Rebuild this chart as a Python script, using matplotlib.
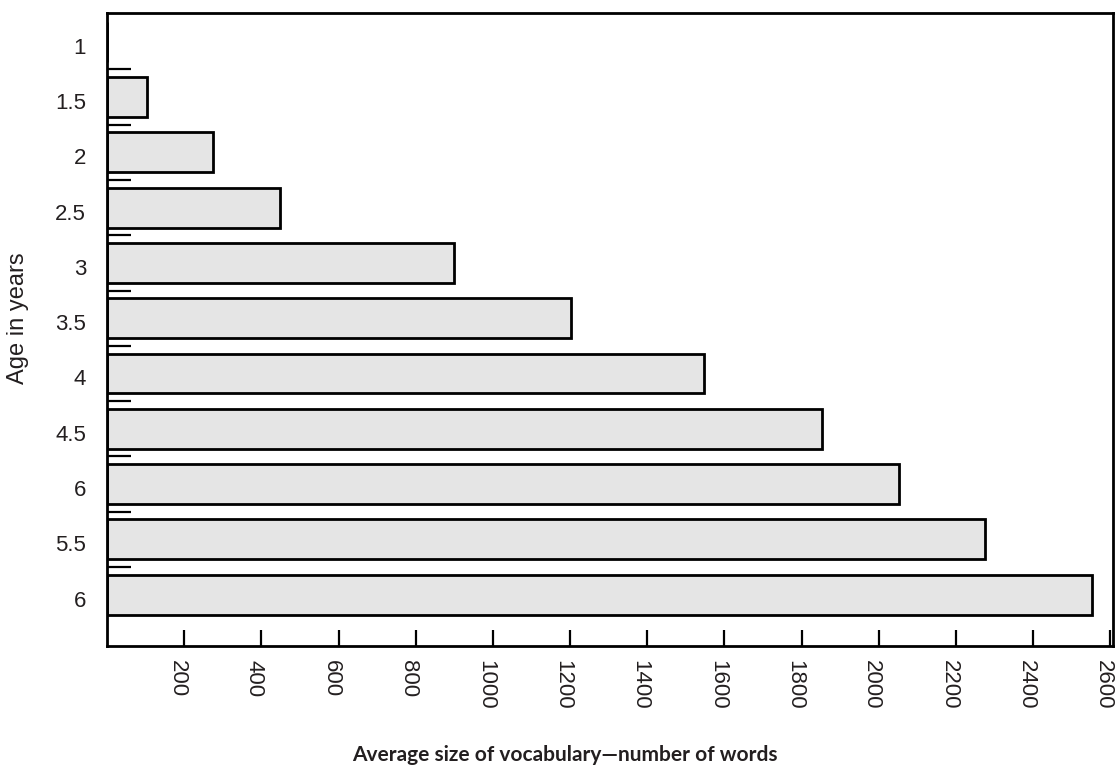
import matplotlib.pyplot as plt
import numpy as np
from matplotlib.transforms import ScaledTranslation

# data (labels kept as printed, including the repeated "6")
ages = ['1', '1.5', '2', '2.5', '3', '3.5', '4', '4.5', '6', '5.5', '6']
words = [0, 104, 275, 448, 899, 1202, 1548, 1854, 2053, 2276, 2552]
xticks = [200, 400, 600, 800, 1000, 1200, 1400, 1600, 1800, 2000, 2200, 2400, 2600]

ink = '#231f20'
plt.rcParams['font.family'] = ['Liberation Sans', 'DejaVu Sans']

fig = plt.figure(figsize=(11.17, 7.76), dpi=100)
ax = fig.add_axes([0.0958, 0.1675, 0.9006, 0.8157])

pos = np.arange(len(ages))
ax.barh(pos, words, height=0.72, color='#e5e5e5', edgecolor='black', linewidth=2)

ax.set_xlim(0, 2607)
ax.set_ylim(10.93, -0.52)

# category labels at the bar centres, short marks between the bars
ax.set_yticks(pos)
ax.set_yticklabels(ages, fontsize=16, color=ink)
ax.tick_params(axis='y', which='major', length=0, pad=15)
ax.set_yticks(pos[:-1] + 0.5, minor=True)
ax.tick_params(axis='y', which='minor', direction='in', length=17, width=1.6, color='black')
off = ScaledTranslation(0, -4 / 100, fig.dpi_scale_trans)
for lab in ax.get_yticklabels():
    lab.set_transform(lab.get_transform() + off)

ax.set_xticks(xticks)
ax.set_xticklabels([str(t) for t in xticks], rotation=270, fontsize=16, color=ink)
ax.tick_params(axis='x', direction='in', length=11.5, width=1.6, pad=10)
xoff = ScaledTranslation(-7 / 100, 0, fig.dpi_scale_trans)
for lab in ax.get_xticklabels():
    lab.set_transform(lab.get_transform() + xoff)

for s in ax.spines.values():
    s.set_linewidth(2)

fig.text(0.016, 0.590, 'Age in years', rotation=90, ha='center', va='center',
         fontsize=17, color=ink)
fig.text(0.506, 0.027, 'Average size of vocabulary\u2014number of words',
         ha='center', va='center', fontsize=15, fontweight='bold',
         family=['Lato', 'DejaVu Sans'], color=ink)

fig.savefig('out.png', dpi=100)
